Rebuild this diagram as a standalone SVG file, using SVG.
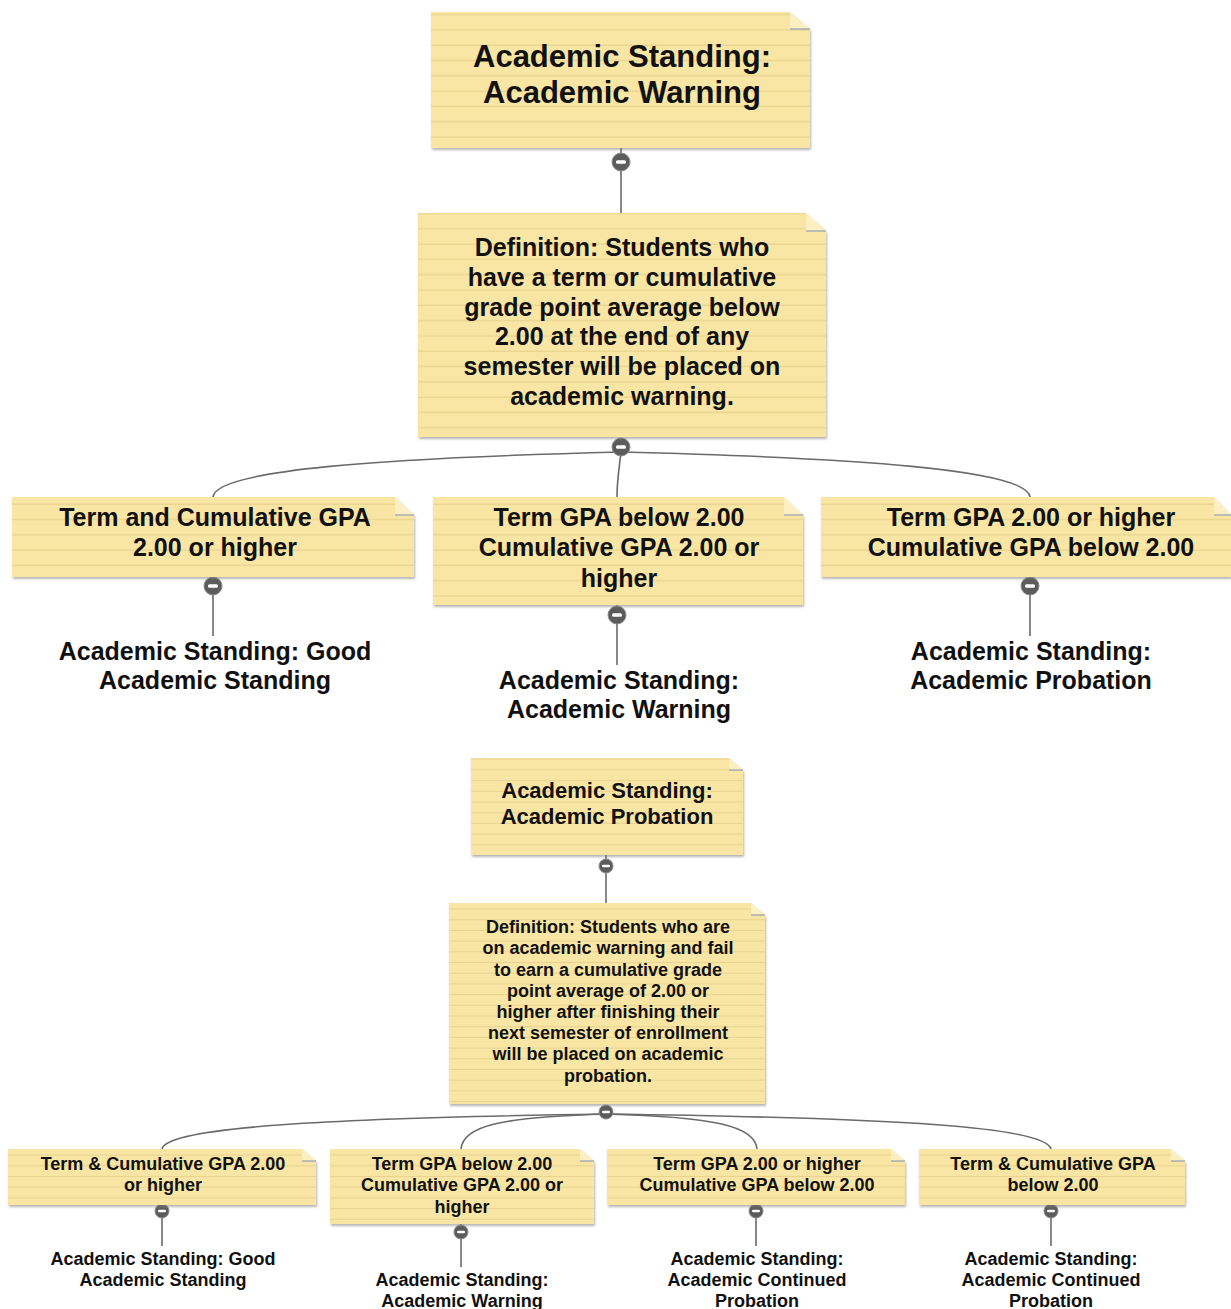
<svg xmlns="http://www.w3.org/2000/svg" width="1231" height="1309" viewBox="0 0 1231 1309">
<defs>
<pattern id="ruleBig" patternUnits="userSpaceOnUse" width="20" height="15.3">
<rect width="20" height="15.3" fill="#f9e6a4"/>
<rect y="14" width="20" height="1.3" fill="#e9d38f"/>
</pattern>
<pattern id="ruleSmall" patternUnits="userSpaceOnUse" width="20" height="10.7">
<rect width="20" height="10.7" fill="#f9e6a4"/>
<rect y="9.7" width="20" height="1" fill="#e9d38f"/>
</pattern>
<filter id="shadow" x="-5%" y="-5%" width="112%" height="120%">
<feDropShadow dx="1" dy="2" stdDeviation="1.2" flood-color="#7a7a7a" flood-opacity="0.55"/>
</filter>
<symbol id="knobBig" overflow="visible"><circle r="9" fill="#5c5c5c" stroke="#8a8a8a" stroke-width="1"/><rect x="-5" y="-1.7" width="10" height="3.4" rx="1.5" fill="#fff"/></symbol>
<symbol id="knobSmall" overflow="visible"><circle r="7" fill="#5c5c5c" stroke="#8a8a8a" stroke-width="1"/><rect x="-4" y="-1.3" width="8" height="2.6" rx="1.2" fill="#fff"/></symbol>
</defs>
<style>
.fold{fill:#fcefc2}
.foldline{stroke:#9aa4b4;stroke-width:1.3}
.big{fill:url(#ruleBig);filter:url(#shadow)}
.small{fill:url(#ruleSmall);filter:url(#shadow)}
.conn{fill:none;stroke:#6a6a6a;stroke-width:1.6}
text{font-family:"Liberation Sans",Arial,Helvetica,sans-serif;font-weight:bold;fill:#111;text-anchor:middle}
.t30{font-size:31px}
.t25{font-size:25px}
.t22{font-size:22px}
.t18{font-size:18px}
</style>
<rect width="1231" height="1309" fill="#fff"/>

<g id="connectors">
<line class="conn" x1="621" y1="148" x2="621" y2="213"/>
<path class="conn" d="M621,452 C380,458 215,470 213,497"/>
<path class="conn" d="M621,452 C619,470 617,480 617,497"/>
<path class="conn" d="M621,452 C860,458 1028,470 1030,497"/>
<line class="conn" x1="213" y1="577" x2="213" y2="636"/>
<line class="conn" x1="617" y1="605" x2="617" y2="665"/>
<line class="conn" x1="1030" y1="577" x2="1030" y2="636"/>
<line class="conn" x1="606" y1="855" x2="606" y2="903"/>
<path class="conn" d="M606,1114 C330,1118 166,1127 162,1149"/>
<path class="conn" d="M606,1114 C500,1117 463,1126 461,1149"/>
<path class="conn" d="M606,1114 C715,1117 755,1126 757,1149"/>
<path class="conn" d="M606,1114 C900,1118 1046,1127 1051,1149"/>
<line class="conn" x1="162" y1="1205" x2="162" y2="1246"/>
<line class="conn" x1="461" y1="1224" x2="461" y2="1267"/>
<line class="conn" x1="756" y1="1205" x2="756" y2="1246"/>
<line class="conn" x1="1051" y1="1205" x2="1051" y2="1246"/>
<use href="#knobBig" x="621" y="162"/>
<use href="#knobBig" x="621" y="447"/>
<use href="#knobBig" x="213" y="586"/>
<use href="#knobBig" x="617" y="615"/>
<use href="#knobBig" x="1030" y="586"/>
<use href="#knobSmall" x="606" y="866"/>
<use href="#knobSmall" x="606" y="1112"/>
<use href="#knobSmall" x="162" y="1211"/>
<use href="#knobSmall" x="461" y="1232"/>
<use href="#knobSmall" x="756" y="1211"/>
<use href="#knobSmall" x="1051" y="1211"/>
</g>

<g id="n-warning-title">
<path class="big" d="M431,12 H790 L810,29 V148 H431 Z"/>
<path class="fold" d="M790,12 V29 H810 Z"/>
<line class="foldline" x1="790" y1="29" x2="810" y2="29"/>
<text class="t30" x="622" y="67">Academic Standing:</text>
<text class="t30" x="622" y="103">Academic Warning</text>
</g>

<g id="n-warning-def">
<path class="big" d="M418,213 H806 L826,231 V437 H418 Z"/>
<path class="fold" d="M806,213 V231 H826 Z"/>
<line class="foldline" x1="806" y1="231" x2="826" y2="231"/>
<text class="t25" x="622" y="256">Definition: Students who</text>
<text class="t25" x="622" y="286">have a term or cumulative</text>
<text class="t25" x="622" y="316">grade point average below</text>
<text class="t25" x="622" y="345">2.00 at the end of any</text>
<text class="t25" x="622" y="375">semester will be placed on</text>
<text class="t25" x="622" y="405">academic warning.</text>
</g>

<g id="n-w-good">
<path class="big" d="M12,497 H395 L414,515 V577 H12 Z"/>
<path class="fold" d="M395,497 V515 H414 Z"/>
<line class="foldline" x1="395" y1="515" x2="414" y2="515"/>
<text class="t25" x="215" y="526">Term and Cumulative GPA</text>
<text class="t25" x="215" y="556">2.00 or higher</text>
</g>

<g id="n-w-termbelow">
<path class="big" d="M433,497 H784 L803,515 V605 H433 Z"/>
<path class="fold" d="M784,497 V515 H803 Z"/>
<line class="foldline" x1="784" y1="515" x2="803" y2="515"/>
<text class="t25" x="619" y="526">Term GPA below 2.00</text>
<text class="t25" x="619" y="556">Cumulative GPA 2.00 or</text>
<text class="t25" x="619" y="587">higher</text>
</g>

<g id="n-w-cumbelow">
<path class="big" d="M821,497 H1214 L1231,515 V577 H821 Z"/>
<path class="fold" d="M1214,497 V515 H1231 Z"/>
<line class="foldline" x1="1214" y1="515" x2="1231" y2="515"/>
<text class="t25" x="1031" y="526">Term GPA 2.00 or higher</text>
<text class="t25" x="1031" y="556">Cumulative GPA below 2.00</text>
</g>

<g id="n-w-label-good">
<text class="t25" x="215" y="660">Academic Standing: Good</text>
<text class="t25" x="215" y="689">Academic Standing</text>
</g>
<g id="n-w-label-warning">
<text class="t25" x="619" y="689">Academic Standing:</text>
<text class="t25" x="619" y="718">Academic Warning</text>
</g>
<g id="n-w-label-probation">
<text class="t25" x="1031" y="660">Academic Standing:</text>
<text class="t25" x="1031" y="689">Academic Probation</text>
</g>

<g id="n-probation-title">
<path class="small" d="M471,758 H729 L743,770 V855 H471 Z"/>
<path class="fold" d="M729,758 V770 H743 Z"/>
<line class="foldline" x1="729" y1="770" x2="743" y2="770"/>
<text class="t22" x="607" y="798">Academic Standing:</text>
<text class="t22" x="607" y="824">Academic Probation</text>
</g>

<g id="n-probation-def">
<path class="small" d="M449,903 H751 L765,915 V1104 H449 Z"/>
<path class="fold" d="M751,903 V915 H765 Z"/>
<line class="foldline" x1="751" y1="915" x2="765" y2="915"/>
<text class="t18" x="608" y="932.5">Definition: Students who are</text>
<text class="t18" x="608" y="953.5">on academic warning and fail</text>
<text class="t18" x="608" y="975.5">to earn a cumulative grade</text>
<text class="t18" x="608" y="996.5">point average of 2.00 or</text>
<text class="t18" x="608" y="1017.5">higher after finishing their</text>
<text class="t18" x="608" y="1038.5">next semester of enrollment</text>
<text class="t18" x="608" y="1059.5">will be placed on academic</text>
<text class="t18" x="608" y="1081.5">probation.</text>
</g>

<g id="n-p-good">
<path class="small" d="M8,1149 H302 L316,1161 V1205 H8 Z"/>
<path class="fold" d="M302,1149 V1161 H316 Z"/>
<line class="foldline" x1="302" y1="1161" x2="316" y2="1161"/>
<text class="t18" x="163" y="1169.5">Term &amp; Cumulative GPA 2.00</text>
<text class="t18" x="163" y="1190.5">or higher</text>
</g>

<g id="n-p-termbelow">
<path class="small" d="M330,1149 H580 L594,1161 V1224 H330 Z"/>
<path class="fold" d="M580,1149 V1161 H594 Z"/>
<line class="foldline" x1="580" y1="1161" x2="594" y2="1161"/>
<text class="t18" x="462" y="1169.5">Term GPA below 2.00</text>
<text class="t18" x="462" y="1190.5">Cumulative GPA 2.00 or</text>
<text class="t18" x="462" y="1212.5">higher</text>
</g>

<g id="n-p-cumbelow">
<path class="small" d="M607,1149 H891 L905,1161 V1205 H607 Z"/>
<path class="fold" d="M891,1149 V1161 H905 Z"/>
<line class="foldline" x1="891" y1="1161" x2="905" y2="1161"/>
<text class="t18" x="757" y="1169.5">Term GPA 2.00 or higher</text>
<text class="t18" x="757" y="1190.5">Cumulative GPA below 2.00</text>
</g>

<g id="n-p-bothbelow">
<path class="small" d="M919,1149 H1171 L1185,1161 V1205 H919 Z"/>
<path class="fold" d="M1171,1149 V1161 H1185 Z"/>
<line class="foldline" x1="1171" y1="1161" x2="1185" y2="1161"/>
<text class="t18" x="1053" y="1169.5">Term &amp; Cumulative GPA</text>
<text class="t18" x="1053" y="1190.5">below 2.00</text>
</g>

<g id="n-p-label-good">
<text class="t18" x="163" y="1264.5">Academic Standing: Good</text>
<text class="t18" x="163" y="1285.5">Academic Standing</text>
</g>
<g id="n-p-label-warning">
<text class="t18" x="462" y="1285.5">Academic Standing:</text>
<text class="t18" x="462" y="1306.5">Academic Warning</text>
</g>
<g id="n-p-label-continued1">
<text class="t18" x="757" y="1264.5">Academic Standing:</text>
<text class="t18" x="757" y="1285.5">Academic Continued</text>
<text class="t18" x="757" y="1306.5">Probation</text>
</g>
<g id="n-p-label-continued2">
<text class="t18" x="1051" y="1264.5">Academic Standing:</text>
<text class="t18" x="1051" y="1285.5">Academic Continued</text>
<text class="t18" x="1051" y="1306.5">Probation</text>
</g>
</svg>
